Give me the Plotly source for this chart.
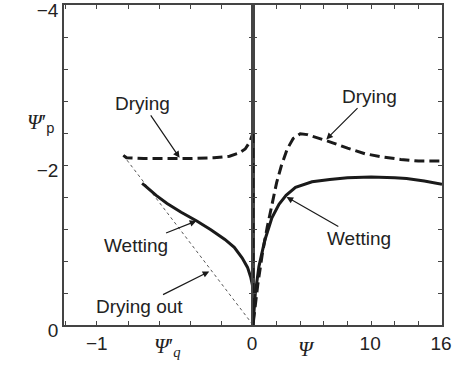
import plotly.graph_objects as go

# ---- data ----
# left panel (Psi'_q axis, -1.2..0)
drying_left_x = [-0.83, -0.81, -0.70, -0.55, -0.40, -0.25, -0.15, -0.09, -0.05, -0.02, -0.005, 0.0, 0.0]
drying_left_y = [-2.12, -2.09, -2.08, -2.08, -2.08, -2.09, -2.11, -2.15, -2.20, -2.29, -2.37, -2.40, 0.0]
wetting_left_x = [-0.71, -0.69, -0.62, -0.55, -0.46, -0.36, -0.27, -0.18, -0.12, -0.07, -0.035, -0.015, -0.004, 0.0, 0.0]
wetting_left_y = [-1.77, -1.74, -1.62, -1.52, -1.41, -1.30, -1.19, -1.07, -0.97, -0.84, -0.72, -0.60, -0.50, -0.40, 0.0]
dryout_x = [-0.83, 0.0]
dryout_y = [-2.12, 0.0]

# right panel (Psi axis, 0..16)
drying_right_x = [0.0, 0.0, 0.0, 0.4, 0.8, 1.2, 1.6, 2.0, 2.4, 2.9, 3.4, 4.0, 4.6, 5.5, 6.5, 8.0, 9.5, 11.0, 12.5, 14.0, 16.0]
drying_right_y = [-2.40, 0.0, 0.0, -0.50, -0.90, -1.22, -1.52, -1.78, -1.99, -2.20, -2.33, -2.39, -2.38, -2.34, -2.29, -2.21, -2.14, -2.10, -2.07, -2.05, -2.05]
wetting_right_x = [0.0, 0.2, 0.5, 1.0, 1.6, 2.2, 2.8, 3.6, 5.0, 6.5, 8.0, 10.0, 12.0, 13.0, 14.5, 16.0]
wetting_right_y = [0.0, -0.40, -0.73, -1.06, -1.34, -1.51, -1.62, -1.72, -1.79, -1.82, -1.84, -1.85, -1.84, -1.83, -1.80, -1.76]

# ticks
xl_ticks = [-1.2, -1.0, -0.8, -0.6, -0.4, -0.2]
xl_text = ["", "\u22121", "", "", "", ""]
xr_ticks = [0, 2, 4, 6, 8, 10, 12, 14, 16]
xr_text = ["0", "", "", "", "", "10", "", "", "16"]
y_ticks = [-4.0, -3.6, -3.2, -2.8, -2.4, -2.0, -1.6, -1.2, -0.8, -0.4, 0.0]
y_text = ["\u22124", "", "", "", "", "\u22122", "", "", "", "", "0"]

# annotations: (label, head_x, head_y, text_x, text_y, panel)
ann_labels = ["Drying", "Wetting", "Drying out", "Drying", "Wetting"]
ann_head_x = [-0.47, -0.363, -0.28, 6.2, 2.84]
ann_head_y = [-2.09, -1.30, -0.67, -2.32, -1.60]
ann_text_x = [-0.707, -0.75, -0.729, 9.87, 9.0]
ann_text_y = [-2.77, -1.00, -0.23, -2.86, -1.08]
ann_panel = ["", "", "", "2", "2"]

INK = "#1a1a1a"
AX = "#444444"
dash = "10px,5px"

fig = go.Figure()
fig.add_trace(go.Scatter(x=dryout_x, y=dryout_y, mode="lines",
                         line=dict(color="#555555", width=1, dash="dot"), xaxis="x", yaxis="y"))
fig.add_trace(go.Scatter(x=drying_left_x, y=drying_left_y, mode="lines",
                         line=dict(color=INK, width=3, dash=dash), xaxis="x", yaxis="y"))
fig.add_trace(go.Scatter(x=wetting_left_x, y=wetting_left_y, mode="lines",
                         line=dict(color=INK, width=3), xaxis="x", yaxis="y"))
fig.add_trace(go.Scatter(x=drying_right_x, y=drying_right_y, mode="lines",
                         line=dict(color=INK, width=3, dash=dash), xaxis="x2", yaxis="y2"))
fig.add_trace(go.Scatter(x=wetting_right_x, y=wetting_right_y, mode="lines",
                         line=dict(color=INK, width=3), xaxis="x2", yaxis="y2"))

tickfont = dict(family="Liberation Sans, Arial, sans-serif", size=19, color="#222222")
common_ax = dict(showline=True, linecolor=AX, linewidth=1.5, mirror="allticks", ticks="inside",
                 ticklen=4, tickcolor=AX, tickwidth=1.2, showgrid=False, zeroline=False,
                 tickfont=tickfont, tickmode="array", ticklabeloverflow="allow", automargin=False)

fig.update_layout(
    width=452, height=380,
    margin=dict(l=64, r=10, t=5, b=55, autoexpand=False),
    paper_bgcolor="white", plot_bgcolor="white",
    showlegend=False,
    xaxis=dict(domain=[0, 0.5], range=[-1.21, 0], anchor="y",
               tickvals=xl_ticks, ticktext=xl_text, **common_ax),
    xaxis2=dict(domain=[0.5, 1], range=[0, 16], anchor="y2",
                tickvals=xr_ticks, ticktext=xr_text, ticklabelshift=-1, **common_ax),
    yaxis=dict(domain=[0, 1], range=[0, -4], anchor="x",
               tickvals=y_ticks, ticktext=y_text, ticklabelshift=-5, **common_ax),
    yaxis2=dict(domain=[0, 1], range=[0, -4], anchor="x2", showticklabels=False,
                tickvals=y_ticks, ticktext=y_text, **common_ax),
)

annotations = []
for lab, hx, hy, tx, ty, p in zip(ann_labels, ann_head_x, ann_head_y, ann_text_x, ann_text_y, ann_panel):
    annotations.append(dict(
        text=lab, x=hx, y=hy, ax=tx, ay=ty,
        xref="x" + p, yref="y" + p, axref="x" + p, ayref="y" + p,
        showarrow=True, arrowhead=2, arrowsize=1.1, arrowwidth=1.2, arrowcolor=INK,
        font=dict(family="Liberation Sans, Arial, sans-serif", size=19, color="#222222"),
    ))

serif = "Liberation Serif, Times New Roman, serif"
annotations += [
    dict(text="<i>\u03a8</i>\u2032<sub><span style='font-family:Liberation Sans'>p</span></sub>",
         x=-0.103, y=0.678, xref="paper", yref="paper", showarrow=False,
         font=dict(family=serif, size=21, color="#222222")),
    dict(text="<i>\u03a8</i>\u2032<sub><i>q</i></sub>",
         x=0.234, y=-0.116, xref="paper", yref="paper", showarrow=False,
         font=dict(family=serif, size=21, color="#222222")),
    dict(text="<i>\u03a8</i>",
         x=0.669, y=-0.119, xref="paper", yref="paper", showarrow=False,
         font=dict(family=serif, size=21, color="#222222")),
]
fig.update_layout(annotations=annotations)

fig.write_html("out.html", config={"displayModeBar": False},
               post_script="document.body.style.margin='0';document.body.style.padding='0';")
